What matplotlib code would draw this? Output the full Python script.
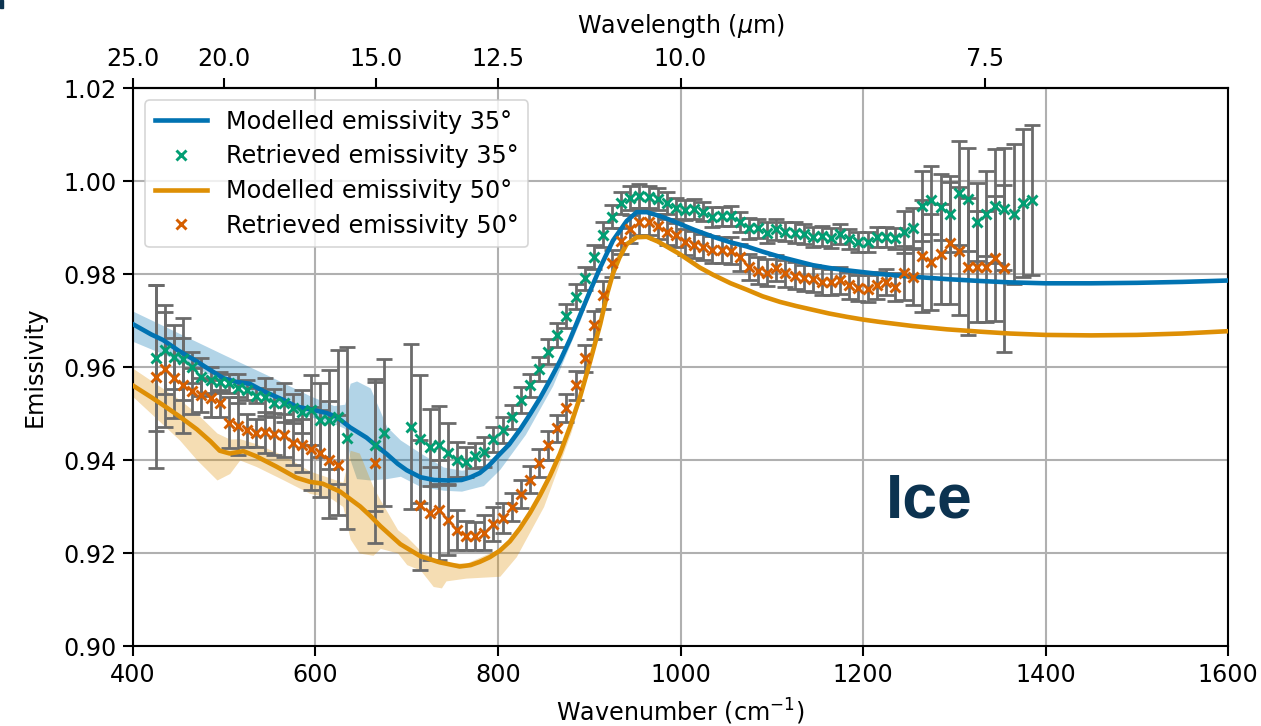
import numpy as np
import matplotlib
matplotlib.use("Agg")
import matplotlib.pyplot as plt
from matplotlib.patches import Rectangle

# ---------------- data ----------------
# Modelled emissivity, 35 degrees
model35_wn = [400, 420, 433, 450, 470, 485, 499, 513, 528, 543, 565, 579, 597, 612, 623,
              638, 656, 667, 678, 690, 700, 715, 730, 745, 760, 770, 780, 790, 802, 812,
              824, 835, 846, 857, 868, 879, 890, 901, 912, 926, 941, 952, 963, 975, 984,
              999, 1015, 1036, 1055, 1073, 1090, 1109, 1127, 1145, 1163, 1182, 1200, 1218,
              1255, 1292, 1328, 1361, 1400, 1450, 1500, 1550, 1600]
model35_em = [0.9692, 0.9670, 0.9658, 0.9635, 0.9612, 0.9593, 0.9576, 0.9568, 0.9564, 0.9548,
              0.9529, 0.9515, 0.9508, 0.9501, 0.9493, 0.9470, 0.9448, 0.9430, 0.9413, 0.9392,
              0.9378, 0.9363, 0.9357, 0.9356, 0.9357, 0.9363, 0.9372, 0.9388, 0.9413, 0.9433,
              0.9465, 0.9498, 0.9533, 0.9572, 0.9613, 0.9660, 0.9712, 0.9764, 0.9814, 0.9872,
              0.9914, 0.9933, 0.9933, 0.9926, 0.9920, 0.9908, 0.9895, 0.9880, 0.9868, 0.9859,
              0.9848, 0.9837, 0.9828, 0.9819, 0.9813, 0.9808, 0.9804, 0.9800, 0.9794, 0.9789,
              0.9785, 0.9782, 0.9780, 0.9780, 0.9781, 0.9783, 0.9786]

# Modelled emissivity, 50 degrees
model50_wn = [400, 420, 433, 450, 470, 485, 495, 506, 521, 535, 557, 579, 594, 608, 627,
              649, 660, 671, 693, 715, 736, 758, 770, 780, 791, 802, 813, 824, 835, 846,
              857, 868, 879, 890, 901, 912, 920, 926, 933, 941, 952, 963, 975, 984, 999,
              1021, 1036, 1055, 1073, 1090, 1109, 1127, 1145, 1163, 1182, 1200, 1218, 1255,
              1292, 1328, 1361, 1400, 1450, 1500, 1550, 1600]
model50_em = [0.9560, 0.9535, 0.9518, 0.9495, 0.9466, 0.9440, 0.9420, 0.9414, 0.9419, 0.9408,
              0.9386, 0.9362, 0.9353, 0.9349, 0.9332, 0.9300, 0.9280, 0.9258, 0.9219, 0.9193,
              0.9180, 0.9171, 0.9174, 0.9181, 0.9191, 0.9205, 0.9225, 0.9253, 0.9286, 0.9324,
              0.9366, 0.9414, 0.9472, 0.9536, 0.9612, 0.9692, 0.9760, 0.9801, 0.9835, 0.9864,
              0.9879, 0.9880, 0.9870, 0.9860, 0.9843, 0.9814, 0.9798, 0.9780, 0.9766, 0.9752,
              0.9740, 0.9731, 0.9723, 0.9715, 0.9708, 0.9702, 0.9697, 0.9688, 0.9681, 0.9676,
              0.9672, 0.9669, 0.9668, 0.9669, 0.9672, 0.9677]

# Model uncertainty envelopes
band35_wn = [400, 450, 500, 550, 594, 620, 632, 638, 645, 660, 678, 693, 715, 740, 760,
             784, 802, 830, 860, 890, 905]
band35_lo = [0.9655, 0.9614, 0.9570, 0.9530, 0.9493, 0.9478, 0.9468, 0.9400, 0.9360, 0.9357,
             0.9360, 0.9365, 0.9343, 0.9335, 0.9333, 0.9345, 0.9380, 0.9455, 0.9560, 0.9700,
             0.9782]
band35_hi = [0.9720, 0.9673, 0.9626, 0.9580, 0.9538, 0.9517, 0.9520, 0.9565, 0.9570, 0.9555,
             0.9472, 0.9443, 0.9415, 0.9385, 0.9378, 0.9385, 0.9418, 0.9485, 0.9585, 0.9715,
             0.9786]

band50_wn = [400, 451, 470, 492, 506, 517, 535, 565, 594, 615, 630, 638, 648, 663, 671,
             690, 700, 715, 729, 738, 743, 765, 802, 820, 850, 880, 900]
band50_lo = [0.9536, 0.9443, 0.9400, 0.9357, 0.9371, 0.9400, 0.9386, 0.9357, 0.9328, 0.9320,
             0.9300, 0.9230, 0.9200, 0.9195, 0.9210, 0.9200, 0.9175, 0.9163, 0.9128, 0.9125,
             0.9140, 0.9146, 0.9150, 0.9192, 0.9300, 0.9460, 0.9595]
band50_hi = [0.9597, 0.9530, 0.9500, 0.9458, 0.9445, 0.9446, 0.9435, 0.9410, 0.9376, 0.9362,
             0.9352, 0.9421, 0.9415, 0.9343, 0.9314, 0.9250, 0.9235, 0.9205, 0.9190, 0.9185,
             0.9180, 0.9178, 0.9210, 0.9245, 0.9340, 0.9480, 0.9610]

# Retrieved emissivity, 35 degrees
ret35_wn = [425, 435, 445, 455, 465, 475, 485, 495, 505, 515, 525, 535, 545, 555, 565,
            575, 585, 595, 605, 615, 625, 635, 665, 675,
            705, 715, 725, 735, 745, 755, 765, 775, 785, 795, 805, 815, 825, 835, 845,
            855, 865, 875, 885, 895, 905, 915, 925, 935, 945, 955, 965, 975, 985, 995,
            1005, 1015, 1025, 1035, 1045, 1055, 1065, 1075, 1085, 1095, 1105, 1115, 1125,
            1135, 1145, 1155, 1165, 1175, 1185, 1195, 1205, 1215, 1225, 1235, 1245, 1255,
            1265, 1275, 1285, 1295, 1305, 1315, 1325, 1335, 1345, 1355, 1365, 1375, 1385]
ret35_em = [0.9619, 0.9637, 0.9621, 0.9617, 0.9599, 0.9578, 0.9573, 0.9568, 0.9565, 0.9554,
            0.9551, 0.9538, 0.9535, 0.9522, 0.9523, 0.9511, 0.9504, 0.9508, 0.9486, 0.9487,
            0.9493, 0.9447, 0.9432, 0.9459,
            0.9472, 0.9445, 0.9427, 0.9432, 0.9414, 0.9401, 0.9396, 0.9409, 0.9418, 0.9445,
            0.9464, 0.9493, 0.9529, 0.9561, 0.9595, 0.9633, 0.9669, 0.9710, 0.9751, 0.9791,
            0.9836, 0.9884, 0.9923, 0.9952, 0.9963, 0.9968, 0.9965, 0.9961, 0.9952, 0.9941,
            0.9938, 0.9940, 0.9934, 0.9923, 0.9924, 0.9925, 0.9912, 0.9898, 0.9898, 0.9889,
            0.9896, 0.9891, 0.9889, 0.9886, 0.9880, 0.9882, 0.9877, 0.9886, 0.9875, 0.9869,
            0.9869, 0.9879, 0.9880, 0.9877, 0.9891, 0.9898, 0.9946, 0.9959, 0.9945, 0.9929,
            0.9974, 0.9961, 0.9912, 0.9930, 0.9946, 0.9939, 0.9929, 0.9952, 0.9959]
ret35_err = [0.0157, 0.0096, 0.0069, 0.0088, 0.0034, 0.0041, 0.0028, 0.0022, 0.0020, 0.0032,
             0.0021, 0.0016, 0.0041, 0.0030, 0.0042, 0.0032, 0.0047, 0.0075, 0.0079, 0.0107,
             0.0144, 0.0195, 0.0142, 0.0158,
             0.0177, 0.0138, 0.0082, 0.0084, 0.0066, 0.0038, 0.0033, 0.0027, 0.0032, 0.0027,
             0.0028, 0.0026, 0.0027, 0.0025, 0.0026, 0.0027, 0.0025, 0.0026, 0.0027, 0.0025,
             0.0026, 0.0027, 0.0025, 0.0024, 0.0026, 0.0025, 0.0024, 0.0023, 0.0024, 0.0022,
             0.0022, 0.0022, 0.0021, 0.0022, 0.0021, 0.0021, 0.0022, 0.0022, 0.0021, 0.0022,
             0.0022, 0.0021, 0.0022, 0.0022, 0.0022, 0.0021, 0.0022, 0.0022, 0.0022, 0.0021,
             0.0022, 0.0022, 0.0022, 0.0023, 0.0045, 0.0045, 0.0076, 0.0073, 0.0071, 0.0082,
             0.0111, 0.0111, 0.0083, 0.0092, 0.0122, 0.0131, 0.0151, 0.0159, 0.0161]

# Retrieved emissivity, 50 degrees
ret50_wn = [425, 435, 445, 455, 465, 475, 485, 495, 505, 515, 525, 535, 545, 555, 565,
            575, 585, 595, 605, 615, 625, 665,
            715, 725, 735, 745, 755, 765, 775, 785, 795, 805, 815, 825, 835, 845, 855,
            865, 875, 885, 895, 905, 915, 925, 935, 945, 955, 965, 975, 985, 995, 1005,
            1015, 1025, 1035, 1045, 1055, 1065, 1075, 1085, 1095, 1105, 1115, 1125, 1135,
            1145, 1155, 1165, 1175, 1185, 1195, 1205, 1215, 1225, 1235, 1245, 1255, 1265,
            1275, 1285, 1295, 1305, 1315, 1325, 1335, 1345, 1355]
ret50_em = [0.9579, 0.9595, 0.9576, 0.9561, 0.9549, 0.9540, 0.9533, 0.9522, 0.9480, 0.9473,
            0.9464, 0.9459, 0.9460, 0.9456, 0.9453, 0.9437, 0.9432, 0.9424, 0.9414, 0.9401,
            0.9389, 0.9394,
            0.9303, 0.9285, 0.9292, 0.9271, 0.9249, 0.9237, 0.9237, 0.9244, 0.9262, 0.9275,
            0.9298, 0.9327, 0.9358, 0.9394, 0.9432, 0.9468, 0.9511, 0.9561, 0.9619, 0.9690,
            0.9755, 0.9823, 0.9872, 0.9896, 0.9912, 0.9911, 0.9903, 0.9891, 0.9884, 0.9869,
            0.9863, 0.9859, 0.9852, 0.9851, 0.9850, 0.9836, 0.9816, 0.9807, 0.9803, 0.9812,
            0.9802, 0.9796, 0.9791, 0.9790, 0.9783, 0.9782, 0.9787, 0.9776, 0.9769, 0.9768,
            0.9776, 0.9782, 0.9773, 0.9802, 0.9794, 0.9839, 0.9826, 0.9843, 0.9866, 0.9850,
            0.9816, 0.9816, 0.9816, 0.9834, 0.9812]
ret50_err = [0.0197, 0.0123, 0.0086, 0.0102, 0.0049, 0.0036, 0.0040, 0.0029, 0.0055, 0.0062,
             0.0035, 0.0030, 0.0044, 0.0045, 0.0046, 0.0048, 0.0057, 0.0089, 0.0093, 0.0126,
             0.0107, 0.0173,
             0.0140, 0.0100, 0.0107, 0.0075, 0.0043, 0.0031, 0.0030, 0.0038, 0.0036, 0.0032,
             0.0030, 0.0031, 0.0029, 0.0030, 0.0031, 0.0029, 0.0030, 0.0031, 0.0029, 0.0030,
             0.0031, 0.0029, 0.0028, 0.0030, 0.0029, 0.0028, 0.0027, 0.0028, 0.0026, 0.0028,
             0.0029, 0.0028, 0.0029, 0.0028, 0.0029, 0.0029, 0.0028, 0.0029, 0.0029, 0.0028,
             0.0029, 0.0029, 0.0028, 0.0029, 0.0029, 0.0028, 0.0029, 0.0029, 0.0028, 0.0029,
             0.0029, 0.0028, 0.0030, 0.0058, 0.0061, 0.0120, 0.0103, 0.0108, 0.0131, 0.0138,
             0.0147, 0.0119, 0.0119, 0.0134, 0.0179]

wavelength_ticks = [25.0, 20.0, 15.0, 12.5, 10.0, 7.5]

# ---------------- style ----------------
BLUE = "#0173B2"
ORANGE = "#DE8F05"
GREEN = "#029E73"
VERMILION = "#D55E00"
ERRGREY = "#6b6b6b"
FS = 17.2

plt.rcParams.update({
    "font.family": "DejaVu Sans",
    "font.size": FS,
    "axes.linewidth": 1.5,
    "xtick.major.size": 7,
    "ytick.major.size": 7,
    "xtick.major.width": 1.5,
    "ytick.major.width": 1.5,
    "xtick.major.pad": 5,
    "ytick.major.pad": 5,
})

fig = plt.figure(figsize=(12.61, 7.26), dpi=100)
ax = fig.add_axes([133 / 1261, 1 - 646 / 726, (1228 - 133) / 1261, (646 - 88) / 726])

ax.grid(True, color="#b0b0b0", linewidth=1.5, zorder=0)
ax.set_axisbelow(True)

ax.fill_between(band35_wn, band35_lo, band35_hi, color=BLUE, alpha=0.3, linewidth=0, zorder=1)
ax.fill_between(band50_wn, band50_lo, band50_hi, color=ORANGE, alpha=0.3, linewidth=0, zorder=1)

ax.errorbar(ret35_wn, ret35_em, yerr=ret35_err, fmt="none", ecolor=ERRGREY,
            elinewidth=2.0, capsize=5.5, capthick=2.0, zorder=2)
ax.errorbar(ret50_wn, ret50_em, yerr=ret50_err, fmt="none", ecolor=ERRGREY,
            elinewidth=2.0, capsize=5.5, capthick=2.0, zorder=2)

l1, = ax.plot(model35_wn, model35_em, color=BLUE, linewidth=3.3, zorder=3,
              label="Modelled emissivity 35°")
l3, = ax.plot(model50_wn, model50_em, color=ORANGE, linewidth=3.3, zorder=3,
              label="Modelled emissivity 50°")
l2, = ax.plot(ret35_wn, ret35_em, linestyle="none", marker="x", color=GREEN,
              markersize=6.5, markeredgewidth=2.1, zorder=4, label="Retrieved emissivity 35°")
l4, = ax.plot(ret50_wn, ret50_em, linestyle="none", marker="x", color=VERMILION,
              markersize=6.5, markeredgewidth=2.1, zorder=4, label="Retrieved emissivity 50°")

ax.set_xlim(400, 1600)
ax.set_ylim(0.90, 1.02)
ax.set_xticks([400, 600, 800, 1000, 1200, 1400, 1600])
ax.set_yticks([0.90, 0.92, 0.94, 0.96, 0.98, 1.00, 1.02])
ax.set_yticklabels([f"{v:.2f}" for v in [0.90, 0.92, 0.94, 0.96, 0.98, 1.00, 1.02]])
ax.set_xlabel("Wavenumber (cm$^{-1}$)", labelpad=7)
ax.set_ylabel("Emissivity", labelpad=12)

leg = ax.legend(handles=[l1, l2, l3, l4], loc="upper left", fontsize=FS,
                handlelength=2.2, labelspacing=0.45, borderpad=0.4,
                handletextpad=0.8, framealpha=0.8, fancybox=True)
leg.get_frame().set_linewidth(1.2)


def wn_to_wl(x):
    x = np.asarray(x, dtype=float)
    with np.errstate(divide="ignore", invalid="ignore"):
        return 1e4 / x


top = ax.secondary_xaxis("top", functions=(wn_to_wl, wn_to_wl))
top.set_xticks(wavelength_ticks)
top.set_xticklabels([f"{v:.1f}" for v in wavelength_ticks])
top.set_xlabel("Wavelength ($\\mu$m)", labelpad=10)

ax.text(0.6877, 0.231, "Ice", transform=ax.transAxes, ha="left", va="baseline",
        fontsize=45, fontweight="bold", family="Liberation Sans", color="#0c3350")

fig.patches.append(Rectangle((0, 1 - 8 / 726), 3 / 1261, 8 / 726,
                             transform=fig.transFigure, color="#0c3350", zorder=10))

fig.savefig("out.png", dpi=100)
